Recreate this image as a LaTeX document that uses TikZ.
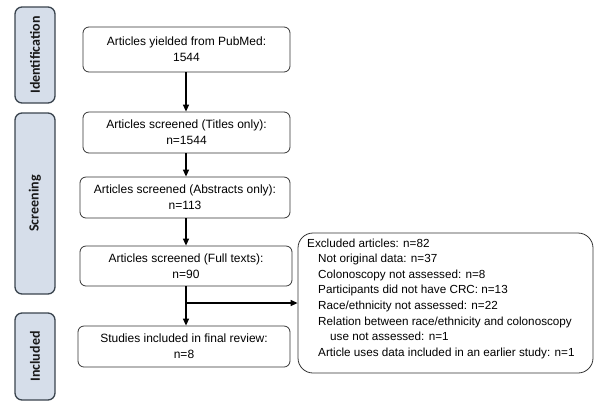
\documentclass[tikz,border=0pt]{standalone}
\usepackage{fontspec}
\setmainfont{Liberation Sans}
\newfontfamily\sidefont{Carlito}
\usetikzlibrary{arrows.meta,positioning}
\definecolor{sidefill}{HTML}{D6DEEA}
\definecolor{sideline}{HTML}{3A444E}
\tikzset{
  phase/.style={draw=sideline, line width=1.3bp, fill=sidefill, rounded corners=7bp,
    minimum width=40bp, inner sep=0pt},
  phaselabel/.style={rotate=90, font=\sidefont\fontsize{14bp}{16bp}\selectfont\bfseries, text=black!90},
  stepbox/.style={draw=black!80, line width=0.8bp, rounded corners=6bp, align=center,
    font=\fontsize{12bp}{16bp}\selectfont, inner sep=0pt},
  flow/.style={line width=1.3bp, -{Triangle[length=7bp,width=6bp]}}
}
\begin{document}
\begin{tikzpicture}[x=1bp,y=-1bp]
\useasboundingbox (0,0) rectangle (600,410);
% phase bars
\node[phase, minimum height=96bp] (p1) at (35,55) {};
\node[phaselabel] (l1) at (p1.center) {Identification};
\node[phase, minimum height=181bp] (p2) at (35,203.5) {};
\node[phaselabel] (l2) at (p2.center) {Screening};
\node[phase, minimum height=87bp] (p3) at (35,356.5) {};
\node[phaselabel] (l3) at (p3.center) {Included};
% main boxes
\node[stepbox, minimum width=207bp, minimum height=45bp] (b1) at (186.5,49.5) {Articles yielded from PubMed:\\1544};
\node[stepbox, minimum width=207bp, minimum height=41bp] (b2) at (186.5,132.5) {Articles screened (Titles only):\\n=1544};
\node[stepbox, minimum width=210bp, minimum height=41bp] (b3) at (185,197.5) {Articles screened (Abstracts only):\\n=113};
\node[stepbox, minimum width=212bp, minimum height=40bp] (b4) at (186,266) {Articles screened (Full texts):\\n=90};
\node[stepbox, minimum width=212bp, minimum height=41bp] (b5) at (184,346.5) {Studies included in final review:\\n=8};
\node[draw=black!80, line width=0.8bp, rounded corners=15bp, minimum width=295bp, minimum height=140bp,
  inner sep=0pt] (ex) at (445.5,303) {};
\node[anchor=north west, align=left, inner sep=0pt, font=\fontsize{11.7bp}{15.6bp}\selectfont] (extext) at (307,238.5)
{Excluded articles: n=82\\
\hspace{11bp}Not original data: n=37\\
\hspace{11bp}Colonoscopy not assessed: n=8\\
\hspace{11bp}Participants did not have CRC: n=13\\
\hspace{11bp}Race/ethnicity not assessed: n=22\\
\hspace{11bp}Relation between race/ethnicity and colonoscopy\\
\hspace{23bp}use not assessed: n=1\\
\hspace{11bp}Article uses data included in an earlier study: n=1};
% arrows
\coordinate (c1) at (186,72);
\draw[flow] (c1) -- (c1 |- b2.north);
\coordinate (c2) at (186,153);
\draw[flow] (c2) -- (c2 |- b3.north);
\coordinate (c3) at (186,218);
\draw[flow] (c3) -- (c3 |- b4.north);
\coordinate (c4) at (186,286);
\draw[flow] (c4) -- (c4 |- b5.north);
\coordinate (br) at (186,303);
\draw[flow] (br) -- (ex.west);
\end{tikzpicture}
\end{document}
